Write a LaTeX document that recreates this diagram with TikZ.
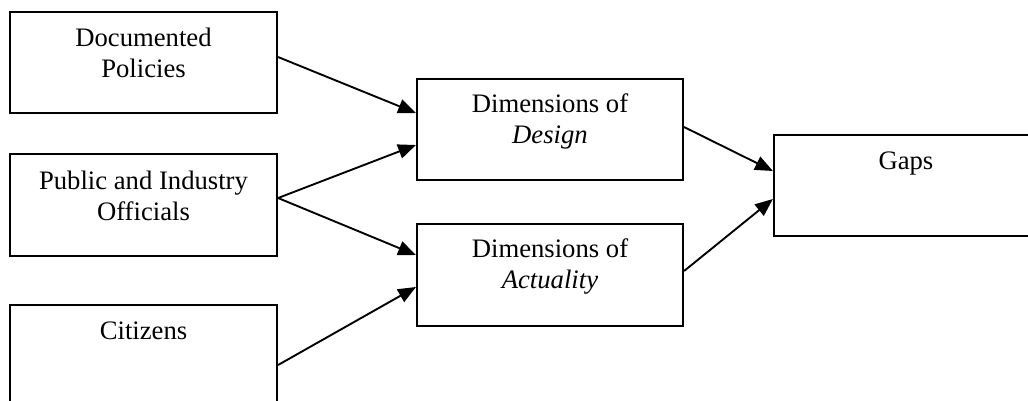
\documentclass[tikz,border=0pt]{standalone}
\usepackage{fontspec}
\setmainfont{Liberation Serif}
\usetikzlibrary{arrows.meta,calc}
\begin{document}
\begin{tikzpicture}[x=0.45pt, y=-0.45pt,
  box/.style={draw, line width=0.95pt, rectangle, inner sep=0pt,
    minimum width=120.15pt, minimum height=45.45pt},
  mid/.style={box, minimum width=119.7pt},
  lbl/.style={anchor=base, inner sep=0pt, font=\fontsize{12}{13.95}\selectfont},
  arr/.style={-{Triangle[length=8pt,width=6.5pt]}, line width=0.85pt}]
\useasboundingbox (0,0) rectangle (1028,400);
\clip (0,0) rectangle (1028,400);

% source boxes
\node[box] (doc) at (143.5,62.5) {};
\node[box, minimum height=45.9pt] (pub) at (143.5,205) {};
\node[box] (cit) at (143.5,355.5) {};
% dimension boxes
\node[mid] (des) at (550,129.75) {};
\node[mid, minimum height=45.9pt] (act) at (550,275) {};
% result box, running past the right edge
\node[box, minimum width=130pt] (gap) at (918.4,185.5) {};

% labels
\node[lbl] (doc-t) at ($(doc.north)+(0,36)$) {\begin{tabular}[t]{@{}c@{}}Documented\\Policies\end{tabular}};
\node[lbl] (pub-t) at ($(pub.north)+(0,36.5)$) {\begin{tabular}[t]{@{}c@{}}Public and Industry\\Officials\end{tabular}};
\node[lbl] (cit-t) at ($(cit.north)+(0,35.7)$) {Citizens};
\node[lbl] (des-t) at ($(des.north)+(0,33.8)$) {\begin{tabular}[t]{@{}c@{}}Dimensions of\\\textit{Design}\end{tabular}};
\node[lbl] (act-t) at ($(act.north)+(0,34.3)$) {\begin{tabular}[t]{@{}c@{}}Dimensions of\\\textit{Actuality}\end{tabular}};
\node[lbl] (gap-t) at ($(gap.north west)+(133,36)$) {Gaps};

% connectors
\draw[arr] ($(doc.east)+(0,-5.5)$) -- ($(des.west)+(0,-16.75)$);
\draw[arr] ($(pub.east)+(0,-7)$) -- ($(des.west)+(0,15.25)$);
\draw[arr] ($(pub.east)+(0,-7)$) -- ($(act.west)+(0,-20)$);
\draw[arr] ($(cit.east)+(0,9.5)$) -- ($(act.west)+(0,12)$);
\draw[arr] ($(des.east)+(0,-2.75)$) -- ($(gap.west)+(0,-14.5)$);
\draw[arr] ($(act.east)+(0,-4)$) -- ($(gap.west)+(0,13.5)$);
\end{tikzpicture}
\end{document}
